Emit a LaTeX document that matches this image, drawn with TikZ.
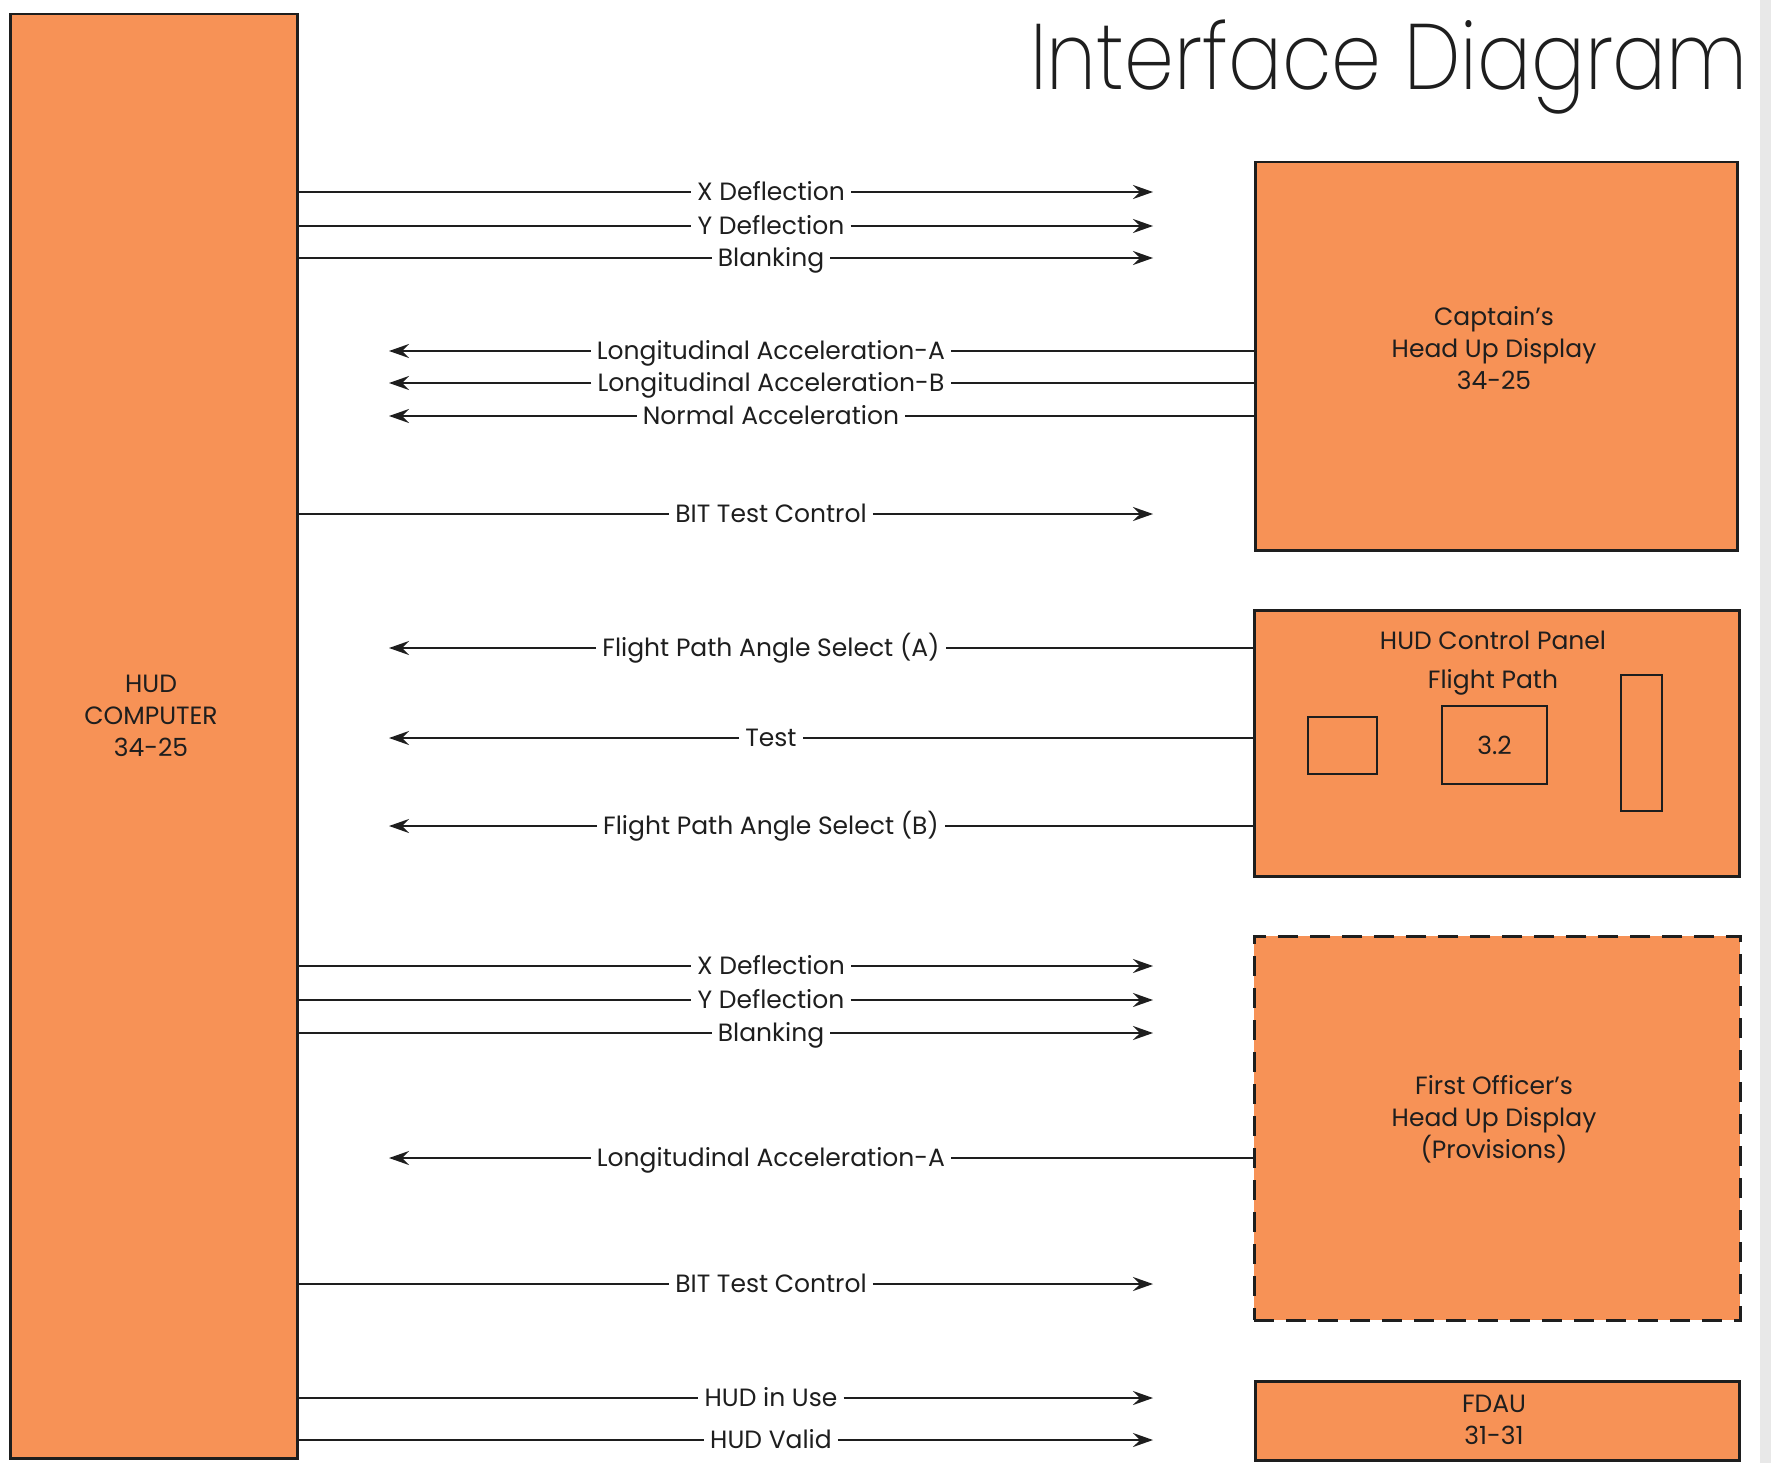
\documentclass[tikz,border=0pt]{standalone}
\usepackage{fontspec}
\setmainfont{Poppins}
\IfFontExistsTF{Poppins ExtraLight}{\newfontfamily\titlefont{Poppins ExtraLight}}{%
  \IfFontExistsTF{Poppins Light}{\newfontfamily\titlefont{Poppins Light}}{\newfontfamily\titlefont{Poppins}}}
\usetikzlibrary{arrows.meta}
\definecolor{orng}{RGB}{247,146,86}
\definecolor{ink}{RGB}{30,30,30}
\begin{document}
\begin{tikzpicture}[x=1pt,y=-1pt,
  box/.style={draw=ink,line width=2.5pt,fill=orng,inner sep=0pt,anchor=north west},
  sig/.style={draw=ink,line width=2pt},
  tipped/.style={sig,-{Stealth[length=20pt,width=14pt,inset=7pt]}},
  lbl/.style={font=\fontsize{25}{28}\selectfont,text=ink,inner xsep=6pt,inner ysep=0pt,text height=17pt,text depth=0pt},
  btxt/.style={font=\fontsize{25}{32}\selectfont,text=ink,align=center,inner sep=0pt},
  knob/.style={draw=ink,line width=2pt,inner sep=0pt}]
\useasboundingbox (0,0) rectangle (1771,1463);
\fill[white] (0,0) rectangle (1771,1463);
\fill[gray!18] (1760,0) rectangle (1771,1463);

% title
\node[font=\titlefont\fontsize{93}{100}\selectfont,text=ink,anchor=base east,inner sep=0pt,xscale=0.86] (title) at (1748,90) {Interface Diagram};

% boxes
\node[box,minimum width=287pt,minimum height=1444pt] (hud) at (9,13) {};
\node[btxt] (hudtxt) at (151,716) {HUD\\COMPUTER\\34-25};

\node[box,minimum width=482pt,minimum height=388pt] (cap) at (1254,161) {};
\node[btxt] (captxt) at (1494,348) {Captain's\\Head Up Display\\34-25};

\node[box,minimum width=485pt,minimum height=266pt] (cp) at (1253,609) {};
\node[btxt] (cptitle) at (1493,640) {HUD Control Panel};
\node[btxt] (cpfp) at (1493,682) {Flight Path};
\node[knob,minimum width=69pt,minimum height=57pt] (k1) at (1342.5,745.5) {};
\node[knob,minimum width=105pt,minimum height=78pt,font=\fontsize{25}{28}\selectfont,text=ink] (k2) at (1494.5,745) {3.2};
\node[knob,minimum width=41pt,minimum height=136pt] (k3) at (1641.5,743) {};

\node[box,dashed,dash pattern=on 20pt off 12pt,minimum width=486pt,minimum height=384pt] (fo) at (1253,935) {};
\node[btxt] (fotxt) at (1494,1119) {First Officer's\\Head Up Display\\(Provisions)};

\node[box,minimum width=484pt,minimum height=79pt] (fdau) at (1254,1380) {};
\node[btxt] (fdautxt) at (1494,1420) {FDAU\\31-31};

% right-pointing signals: from HUD computer
\foreach \n/\y/\t in {a/192/X Deflection, b/226/Y Deflection, c/258/Blanking,
  d/514/BIT Test Control,
  e/966/X Deflection, f/1000/Y Deflection, g/1033/Blanking,
  h/1284/BIT Test Control,
  i/1398/HUD in Use, j/1440/HUD Valid}{
  \node[lbl] (l\n) at (771,\y) {\t};
  \coordinate (t\n) at (1153,\y);
  \draw[sig] (hud.east |- l\n) -- (l\n.west);
  \draw[tipped] (l\n.east) -- (t\n);
}

% left-pointing signals: into HUD computer
\foreach \n/\y/\t/\src in {m/351/Longitudinal Acceleration-A/cap, n/383/Longitudinal Acceleration-B/cap, o/416/Normal Acceleration/cap,
  p/648/Flight Path Angle Select (A)/cp, q/738/Test/cp, r/826/Flight Path Angle Select (B)/cp,
  s/1158/Longitudinal Acceleration-A/fo}{
  \node[lbl] (l\n) at (771,\y) {\t};
  \coordinate (t\n) at (389,\y);
  \draw[sig] (\src.west |- l\n) -- (l\n.east);
  \draw[tipped] (l\n.west) -- (t\n);
}
\end{tikzpicture}
\end{document}
